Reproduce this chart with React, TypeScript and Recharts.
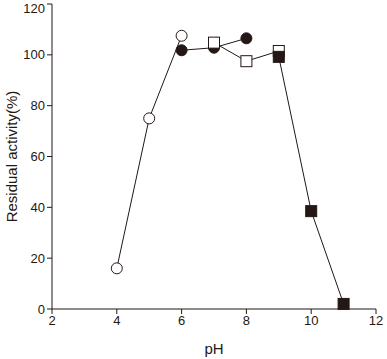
import React from 'react';
import { LineChart, Line, XAxis, YAxis } from 'recharts';

const X_TICKS = [2, 4, 6, 8, 10, 12];
const Y_TICKS = [0, 20, 40, 60, 80, 100, 120];

// pH, residual activity (%)
const openCircles = [
  { ph: 4, v: 16 },
  { ph: 5, v: 75 },
  { ph: 6, v: 107.5 },
];
const filledCircles = [
  { ph: 6, v: 101.8 },
  { ph: 7, v: 102.8 },
  { ph: 8, v: 106.5 },
];
const openSquares = [
  { ph: 7, v: 104.8 },
  { ph: 8, v: 97.5 },
  { ph: 9, v: 101.5 },
];
const filledSquares = [
  { ph: 9, v: 99.2 },
  { ph: 10, v: 38.5 },
  { ph: 11, v: 2 },
];

const INK = '#231815';
const FONT = '"Liberation Sans", Arial, sans-serif';

function makeDot(shape: 'circle' | 'square', filled: boolean) {
  return (props: any) => {
    const { cx, cy, index } = props;
    if (cx == null || cy == null) return <g key={index} />;
    const fill = filled ? INK : '#fff';
    if (shape === 'circle') {
      return <circle key={index} cx={cx} cy={cy} r={5.5} fill={fill} stroke={INK} strokeWidth={1} />;
    }
    return <rect key={index} x={cx - 5.5} y={cy - 5.5} width={11} height={11} fill={fill} stroke={INK} strokeWidth={1} />;
  };
}

const tickStyle = { fontSize: 13, fill: INK, fontFamily: FONT };

export default function App() {
  return (
    <div style={{ position: 'absolute', left: 0, top: 0, background: '#fff' }}>
      <LineChart width={387} height={359} margin={{ top: 4, right: 11, left: 10, bottom: 0 }}>
        <XAxis
          xAxisId="b"
          dataKey="ph"
          type="number"
          domain={[2, 12]}
          ticks={X_TICKS}
          allowDuplicatedCategory={false}
          height={50}
          axisLine={{ stroke: INK }}
          tickLine={{ stroke: INK }}
          tickSize={5}
          tick={tickStyle}
          label={{ value: 'pH', position: 'insideBottom', offset: 5, style: { fontSize: 15, fill: INK, fontFamily: FONT } }}
        />
        <XAxis
          xAxisId="t"
          orientation="top"
          type="number"
          domain={[2, 12]}
          height={0}
          tick={false}
          tickLine={false}
          axisLine={{ stroke: INK }}
        />
        <YAxis
          yAxisId="l"
          type="number"
          domain={[0, 120]}
          ticks={Y_TICKS}
          width={42}
          axisLine={{ stroke: INK }}
          tickLine={{ stroke: INK }}
          tickSize={5}
          tick={tickStyle}
          label={{ value: 'Residual activity(%)', angle: -90, position: 'insideLeft', offset: 2, style: { fontSize: 15, fill: INK, fontFamily: FONT, textAnchor: 'middle' } }}
        />
        <YAxis
          yAxisId="r"
          orientation="right"
          type="number"
          domain={[0, 120]}
          width={0}
          tick={false}
          tickLine={false}
          axisLine={{ stroke: INK }}
        />
        <Line xAxisId="b" yAxisId="l" data={openCircles} dataKey="v" stroke={INK} strokeWidth={1} dot={makeDot('circle', false)} isAnimationActive={false} />
        <Line xAxisId="b" yAxisId="l" data={filledCircles} dataKey="v" stroke={INK} strokeWidth={1} dot={makeDot('circle', true)} isAnimationActive={false} />
        <Line xAxisId="b" yAxisId="l" data={openSquares} dataKey="v" stroke={INK} strokeWidth={1} dot={makeDot('square', false)} isAnimationActive={false} />
        <Line xAxisId="b" yAxisId="l" data={filledSquares} dataKey="v" stroke={INK} strokeWidth={1} dot={makeDot('square', true)} isAnimationActive={false} />
      </LineChart>
    </div>
  );
}
